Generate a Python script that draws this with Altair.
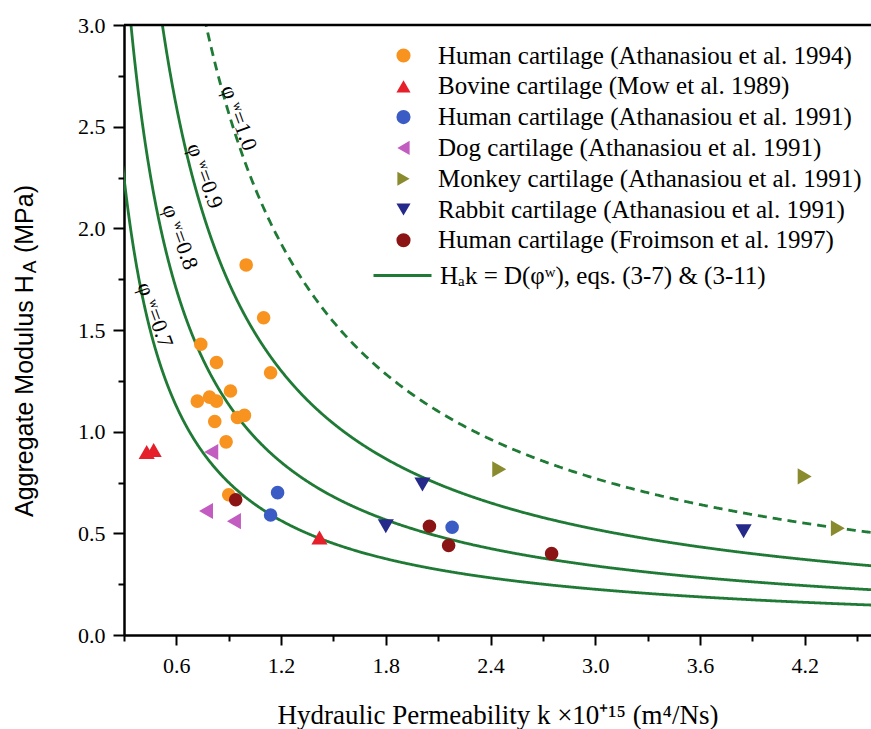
import altair as alt
import pandas as pd

# ---------------- data ----------------
series_names = [
    "Human cartilage (Athanasiou et al. 1994)",
    "Bovine cartilage (Mow et al. 1989)",
    "Human cartilage (Athanasiou et al. 1991)",
    "Dog cartilage (Athanasiou et al. 1991)",
    "Monkey cartilage (Athanasiou et al. 1991)",
    "Rabbit cartilage (Athanasiou et al. 1991)",
    "Human cartilage (Froimson et al. 1997)",
]
human94_k = [1.00, 1.10, 0.74, 0.83, 1.14, 0.91, 0.72, 0.79, 0.83, 0.82, 0.95, 0.99, 0.885, 0.90]
human94_H = [1.82, 1.56, 1.43, 1.34, 1.29, 1.20, 1.15, 1.17, 1.15, 1.05, 1.07, 1.08, 0.95, 0.69]
bovine_k = [0.43, 0.47, 1.42]
bovine_H = [0.90, 0.91, 0.48]
human91_k = [1.18, 1.14, 2.18]
human91_H = [0.70, 0.59, 0.53]
dog_k = [0.80, 0.77, 0.93]
dog_H = [0.90, 0.61, 0.56]
monkey_k = [2.45, 4.20, 4.39]
monkey_H = [0.815, 0.78, 0.525]
rabbit_k = [2.01, 1.80, 3.85]
rabbit_H = [0.74, 0.535, 0.51]
froimson_k = [0.94, 2.05, 2.16, 2.75]
froimson_H = [0.665, 0.535, 0.44, 0.40]

# model curves  H_A * k = D(phi_w)
phi_labels = ["φ ʷ=0.7", "φ ʷ=0.8", "φ ʷ=0.9", "φ ʷ=1.0"]
phi_D = [0.675, 1.02, 1.56, 2.31]
label_k = [0.478, 0.621, 0.764, 0.959]
label_H = [1.574, 1.958, 2.258, 2.543]

x_ticks = [0.3, 0.6, 0.9, 1.2, 1.5, 1.8, 2.1, 2.4, 2.7, 3.0, 3.3, 3.6, 3.9, 4.2, 4.5]
y_ticks = [0.0, 0.25, 0.5, 0.75, 1.0, 1.25, 1.5, 1.75, 2.0, 2.25, 2.5, 2.75, 3.0]

curve_legend = "Hₐk = D(φʷ), eqs. (3-7) & (3-11)"

colors = ["#F7931E", "#E5202B", "#3B5CC4", "#C25CC0", "#8A8A2E", "#24298A", "#8B1515"]
shapes = ["circle", "triangle-up", "circle", "triangle-left", "triangle-right", "triangle-down", "circle"]
circle_series = [series_names[0], series_names[2], series_names[6]]

# ---------------- tables ----------------
groups = [human94_k, bovine_k, human91_k, dog_k, monkey_k, rabbit_k, froimson_k]
groupsH = [human94_H, bovine_H, human91_H, dog_H, monkey_H, rabbit_H, froimson_H]
rows = []
for name, ks, hs in zip(series_names, groups, groupsH):
    for k, h in zip(ks, hs):
        rows.append({"src": name, "k": k, "H": h})
points = pd.DataFrame(rows)
curves = pd.DataFrame({"phi": phi_labels, "D": phi_D})
labels = pd.DataFrame({"phi": phi_labels, "k": label_k, "H": label_H})

W, H = 747, 610
GREEN = "#1E7A34"
SERIF = "Liberation Serif"

xscale = alt.Scale(domain=[0.3, 4.58], nice=False, zero=False)
yscale = alt.Scale(domain=[0, 3.0], nice=False, zero=False)

x_axis = alt.Axis(
    values=x_ticks,
    labelExpr="round(datum.value*10) % 6 == 0 ? format(datum.value, '.1f') : ''",
    tickSize={"condition": {"test": "round(datum.value*10) % 6 == 0", "value": 10}, "value": 6},
    labelFont=SERIF, labelFontSize=22, labelColor="black",
    labelBaseline="alphabetic", labelPadding=27, labelFlush=False, labelOverlap=False,
    title="Hydraulic Permeability k ×10⁺¹⁵ (m⁴/Ns)",
    titleFont=SERIF, titleFontSize=27, titleFontWeight="normal", titleColor="black",
    titleBaseline="alphabetic", titleY=88,
)
y_axis = alt.Axis(
    values=y_ticks,
    labelExpr="round(datum.value*100) % 50 == 0 ? format(datum.value, '.1f') : ''",
    tickSize={"condition": {"test": "round(datum.value*100) % 50 == 0", "value": 11}, "value": 6},
    labelFont=SERIF, labelFontSize=22, labelColor="black",
    labelPadding=8, labelFlush=False, labelOverlap=False,
    title=None,
)

leg_points = alt.Legend(
    title=None, orient="none", legendX=267, legendY=18, padding=0,
    labelFont=SERIF, labelFontSize=25, labelColor="black", labelLimit=0,
    symbolSize=200, rowPadding=4.8, labelOffset=22, symbolStrokeWidth=0,
)

base_curves = (
    alt.Chart(curves)
    .transform_calculate(ks="sequence(0.25, 4.7, 0.005)")
    .transform_flatten(["ks"])
    .transform_calculate(Hk="datum.D / datum.ks", lg=f"'{curve_legend}'",
                         style="datum.D > 2 ? 'dash' : 'solid'")
    .transform_filter("datum.Hk < 3.4")
)
lines = base_curves.mark_line(strokeWidth=2.8, clip=True).encode(
    x=alt.X("ks:Q", scale=xscale, axis=x_axis),
    y=alt.Y("Hk:Q", scale=yscale, axis=y_axis),
    detail="phi:N",
    strokeDash=alt.StrokeDash("style:N", scale=alt.Scale(domain=["solid", "dash"], range=[[1, 0], [9, 6]]), legend=None),
    stroke=alt.Stroke("lg:N", scale=alt.Scale(domain=[curve_legend], range=[GREEN]),
                      legend=alt.Legend(title=None, orient="none", legendX=248, legendY=220, padding=0,
                                        labelFont=SERIF, labelFontSize=25, labelColor="black", labelLimit=0,
                                        symbolType="stroke", symbolSize=3364, symbolStrokeWidth=2.8,
                                        labelOffset=7)),
    order="ks:Q",
)

curve_text = alt.Chart(labels).mark_text(
    angle=70, font=SERIF, fontSize=22, color="black", align="center", baseline="middle"
).encode(x=alt.X("k:Q", scale=xscale), y=alt.Y("H:Q", scale=yscale), text="phi:N")

color_enc = alt.Color("src:N", scale=alt.Scale(domain=series_names, range=colors), legend=leg_points)
shape_enc = alt.Shape("src:N", scale=alt.Scale(domain=series_names, range=shapes), legend=leg_points)

pts_circ = alt.Chart(points).transform_filter(
    alt.FieldOneOfPredicate(field="src", oneOf=circle_series)
).mark_point(filled=True, opacity=1, size=185).encode(
    x=alt.X("k:Q", scale=xscale), y=alt.Y("H:Q", scale=yscale), color=color_enc, shape=shape_enc
)
pts_tri = alt.Chart(points).transform_filter(
    {"not": alt.FieldOneOfPredicate(field="src", oneOf=circle_series)}
).mark_point(filled=True, opacity=1, size=260).encode(
    x=alt.X("k:Q", scale=xscale), y=alt.Y("H:Q", scale=yscale), color=color_enc, shape=shape_enc
)

one = alt.Data(values=[{}])
top_rule = alt.Chart(one).mark_rule(color="black", strokeWidth=2.5).encode(
    x=alt.value(0), x2=alt.value(W), y=alt.value(0)
)
yt1 = alt.Chart(one).mark_text(angle=270, align="left", baseline="alphabetic", font="Liberation Sans",
                               fontSize=25, color="black").encode(
    x=alt.value(-91), y=alt.value(492), text=alt.value("Aggregate Modulus H"))
yt2 = alt.Chart(one).mark_text(angle=270, align="center", baseline="alphabetic", font="Liberation Sans",
                               fontSize=19, color="black").encode(
    x=alt.value(-88), y=alt.value(242), text=alt.value("A"))
yt3 = alt.Chart(one).mark_text(angle=270, align="right", baseline="alphabetic", font="Liberation Sans",
                               fontSize=25, color="black").encode(
    x=alt.value(-91), y=alt.value(160), text=alt.value("(MPa)"))

chart = alt.layer(lines, curve_text, pts_circ, pts_tri, top_rule, yt1, yt2, yt3).properties(
    width=W, height=H,
    autosize=alt.AutoSizeParams(type="none"),
    padding={"left": 124, "top": 25, "right": 0, "bottom": 94},
).configure_view(stroke=None).configure_axis(
    domainColor="black", domainWidth=2.5, tickColor="black", tickWidth=2, grid=False,
)

chart.save("out.html", embed_options={"renderer": "svg", "actions": False})
